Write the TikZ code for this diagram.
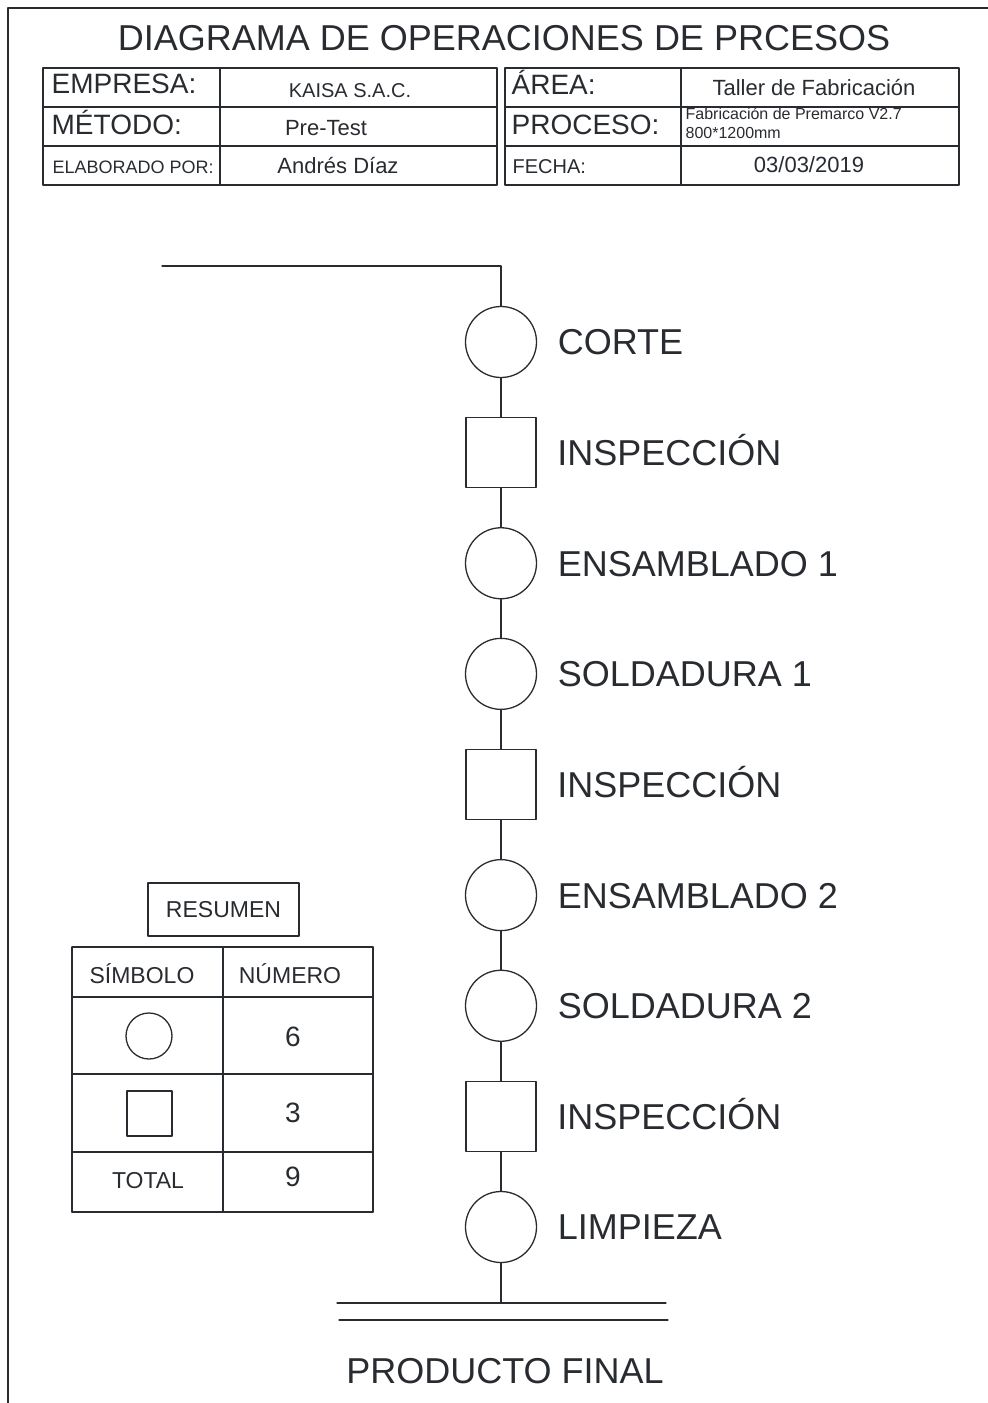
\documentclass[tikz,border=0pt]{standalone}
\usepackage{fontspec}
\setmainfont{Liberation Sans}
\usetikzlibrary{positioning}
\definecolor{ink}{RGB}{40,43,48}
\newcommand{\fs}[1]{\fontsize{#1}{#1}\selectfont}
\begin{document}
\begin{tikzpicture}[x=.5pt, y=-.5pt, line join=round, line cap=round, line width=.65pt, draw=ink, text=ink,
			oper/.style={draw=ink, circle, minimum size=35.5pt, inner sep=0pt},
			insp/.style={draw=ink, rectangle, minimum size=35pt, inner sep=0pt},
			lbl/.style={font=\fs{18}, inner sep=0pt, text height=12.9pt, text depth=0pt},
			hd/.style={inner sep=0pt, anchor=base west},
			hv/.style={inner sep=0pt, anchor=base},
			tb/.style={font=\fs{11.5}, inner sep=0pt}
			]
			\useasboundingbox (0,0) rectangle (988,1403);
			\draw (988,8)--(8,8)--(8,1403);
			% titulo y encabezado
			\node[hv, font=\fs{18}] (titulo) at (504,50) {DIAGRAMA DE OPERACIONES DE PRCESOS};
			\draw (43,68) rectangle (497,185);
			\draw (505,68) rectangle (959,185);
			\foreach \y in {107,146}
			\draw (43,\y)--(497,\y) (505,\y)--(959,\y);
			\draw (220,68)--(220,185) (681,68)--(681,185);
			\node[hd, font=\fs{14}] (empresa) at (51,93) {EMPRESA:};
			\node[hd, font=\fs{14}] (metodo) at (51,134) {MÉTODO:};
			\node[hd, font=\fs{9}] (elab) at (52,173) {ELABORADO POR:};
			\node[hv, font=\fs{10}] (kaisa) at (350,97) {KAISA S.A.C.};
			\node[hv, font=\fs{11}] (pretest) at (326,135) {Pre-Test};
			\node[hv, font=\fs{11}] (autor) at (338,173) {Andrés Díaz};
			\node[hd, font=\fs{14}] (area) at (511,94) {ÁREA:};
			\node[hd, font=\fs{14}] (proceso) at (511,134) {PROCESO:};
			\node[hd, font=\fs{10}] (fecha) at (512,173) {FECHA:};
			\node[hv, font=\fs{11}] (taller) at (814,95) {Taller de Fabricación};
			\node[hd, font=\fs{8}] (premarco) at (685,119) {Fabricación de Premarco V2.7};
			\node[hd, font=\fs{8}] (medida) at (685,138) {800*1200mm};
			\node[hv, font=\fs{11}] (dia) at (809,172) {03/03/2019};
			% operaciones
			\foreach \t/\lab [count=\i] in {oper/CORTE, insp/INSPECCIÓN, oper/ENSAMBLADO 1, oper/SOLDADURA 1, insp/INSPECCIÓN, oper/ENSAMBLADO 2, oper/SOLDADURA 2, insp/INSPECCIÓN, oper/LIMPIEZA}
			{
				\pgfmathsetmacro\yy{342+110.625*(\i-1)}
				\node[\t] (s\i) at (501,\yy) {};
				\node[lbl, right=10pt of s\i] (l\i) {\lab};
			}
			\foreach \i [evaluate=\i as \j using int(\i+1)] in {1,...,8}
			\draw (s\i)--(s\j);
			\coordinate (inicio) at (162,266);
			\coordinate (fin) at (501,1303);
			\draw (inicio) -| (s1);
			\draw (s9)--(fin);
			\draw (337,1303)--(666,1303);
			\draw (339,1320)--(668,1320);
			\node[hv, font=\fs{18}] (producto) at (505,1383) {PRODUCTO FINAL};
			% resumen
			\node[draw=ink, tb, minimum width=75.5pt, minimum height=26.5pt] (resumen) at (223.5,909.5) {RESUMEN};
			\foreach \y in {947,997,1074,1152,1212}
			\draw (72,\y)--(373,\y);
			\foreach \x in {72,223,373}
			\draw (\x,947)--(\x,1212);
			\node[tb] (simbolo) at (142,974) {SÍMBOLO};
			\node[tb] (numero) at (290,974) {NÚMERO};
			\node[tb] (total) at (148,1181) {TOTAL};
			\node[draw=ink, circle, minimum size=23pt, inner sep=0pt] (circ) at (149,1036) {};
			\node[draw=ink, minimum size=22.5pt, inner sep=0pt] (cuad) at (149.5,1113.5) {};
			\node[tb, font=\fs{14}] (n6) at (293,1037) {6};
			\node[tb, font=\fs{14}] (n3) at (293,1113) {3};
			\node[tb, font=\fs{14}] (n9) at (293,1177) {9};
	\end{tikzpicture}
\end{document}
